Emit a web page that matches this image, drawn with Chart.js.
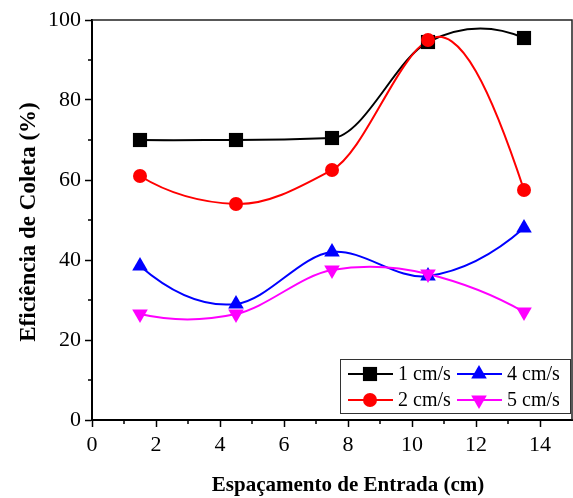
<!DOCTYPE html>
<html>
<head>
<meta charset="utf-8">
<script src="https://cdn.jsdelivr.net/npm/chart.js@4"></script>
<style>
  body { margin: 0; background: #fff; }
  #wrap { width: 573px; height: 498px; }
</style>
</head>
<body>
<div id="wrap"><canvas id="chart"></canvas></div>
<script>
// data
const espacamento = [1.5, 4.5, 7.5, 10.5, 13.5];
const v1 = [70, 70, 70.5, 94.5, 95.5];
const v2 = [61, 54, 62.5, 95, 57.5];
const v4 = [38.5, 29, 42, 36, 48];
const v5 = [26.5, 26.5, 37.5, 36.5, 27];
const seriesLabels = ['1 cm/s', '2 cm/s', '4 cm/s', '5 cm/s'];
const xTicks = [0, 2, 4, 6, 8, 10, 12, 14];
const yTicks = [0, 20, 40, 60, 80, 100];

const FONT = "'Liberation Serif', 'Times New Roman', serif";
const colors = ['#000000', '#ff0000', '#0000ff', '#ff00ff'];
const styles = ['rect', 'circle', 'triangle', 'triangle'];
const radii = [10, 7, 9, 9];
const rots = [0, 0, 0, 180];
const allValues = [v1, v2, v4, v5];

const datasets = allValues.map((vals, i) => ({
  label: seriesLabels[i],
  data: espacamento.map((x, j) => ({ x: x, y: vals[j] })),
  showLine: false,
  pointStyle: styles[i],
  pointRadius: radii[i],
  pointHoverRadius: radii[i],
  pointRotation: rots[i],
  pointBackgroundColor: colors[i],
  pointBorderColor: colors[i],
  pointBorderWidth: 0,
  borderColor: colors[i],
  order: 3 - i
}));

// Akima spline slopes at each knot (what the original plot's "spline" looks like)
function akimaSlopes(xs, ys) {
  const n = xs.length;
  const m = [];
  for (let i = 0; i < n - 1; i++) m.push((ys[i + 1] - ys[i]) / (xs[i + 1] - xs[i]));
  // extend two on each side
  const mm1 = 2 * m[0] - m[1];
  const mm2 = 2 * mm1 - m[0];
  const mp1 = 2 * m[n - 2] - m[n - 3];
  const mp2 = 2 * mp1 - m[n - 2];
  const e = [mm2, mm1].concat(m, [mp1, mp2]);
  const t = [];
  for (let i = 0; i < n; i++) {
    const a = e[i], b = e[i + 1], c = e[i + 2], d = e[i + 3];
    const w1 = Math.abs(d - c), w2 = Math.abs(b - a);
    t.push(w1 + w2 === 0 ? (b + c) / 2 : (w1 * b + w2 * c) / (w1 + w2));
  }
  return t;
}

const splinePlugin = {
  id: 'splineLines',
  beforeDatasetsDraw(chart) {
    const ctx = chart.ctx, xs = chart.scales.x, ys = chart.scales.y;
    const area = chart.chartArea;
    ctx.save();
    ctx.beginPath();
    ctx.rect(area.left, area.top, area.right - area.left, area.bottom - area.top);
    ctx.clip();
    ctx.lineWidth = 2;
    ctx.lineJoin = 'round';
    allValues.forEach((vals, k) => {
      const t = akimaSlopes(espacamento, vals);
      ctx.strokeStyle = colors[k];
      ctx.beginPath();
      ctx.moveTo(xs.getPixelForValue(espacamento[0]), ys.getPixelForValue(vals[0]));
      for (let i = 0; i < espacamento.length - 1; i++) {
        const x0 = espacamento[i], x1 = espacamento[i + 1], h = x1 - x0;
        ctx.bezierCurveTo(
          xs.getPixelForValue(x0 + h / 3), ys.getPixelForValue(vals[i] + t[i] * h / 3),
          xs.getPixelForValue(x1 - h / 3), ys.getPixelForValue(vals[i + 1] - t[i + 1] * h / 3),
          xs.getPixelForValue(x1), ys.getPixelForValue(vals[i + 1])
        );
      }
      ctx.stroke();
    });
    ctx.restore();
  },
  afterDraw(chart) {
    const ctx = chart.ctx, xs = chart.scales.x, ys = chart.scales.y;
    const area = chart.chartArea;
    ctx.save();
    // frame top/right
    ctx.strokeStyle = '#222';
    ctx.lineWidth = 1.5;
    ctx.beginPath();
    ctx.moveTo(area.left, area.top);
    ctx.lineTo(area.right, area.top);
    ctx.lineTo(area.right, area.bottom);
    ctx.stroke();
    // minor ticks
    ctx.strokeStyle = '#000';
    ctx.lineWidth = 1.5;
    ctx.beginPath();
    for (let v = 1; v < 15; v += 2) {
      const px = xs.getPixelForValue(v);
      ctx.moveTo(px, area.bottom);
      ctx.lineTo(px, area.bottom + 4);
    }
    for (let v = 10; v < 100; v += 20) {
      const py = ys.getPixelForValue(v);
      ctx.moveTo(area.left, py);
      ctx.lineTo(area.left - 4, py);
    }
    ctx.stroke();

    // axis titles
    ctx.fillStyle = '#000';
    ctx.textAlign = 'center';
    ctx.textBaseline = 'alphabetic';
    ctx.font = "bold 21px " + FONT;
    ctx.fillText('Espaçamento de Entrada (cm)', 348, 491);
    ctx.save();
    ctx.font = "bold 23px " + FONT;
    ctx.translate(35, 222);
    ctx.rotate(-Math.PI / 2);
    ctx.fillText('Eficiência de Coleta (%)', 0, 0);
    ctx.restore();

    // legend box
    const bx = area.right - 232, by = area.bottom - 61, bw = 230, bh = 54;
    ctx.fillStyle = '#fff';
    ctx.fillRect(bx, by, bw, bh);
    ctx.strokeStyle = '#333';
    ctx.lineWidth = 1;
    ctx.strokeRect(bx + 0.5, by + 0.5, bw, bh);
    const slots = [[0, 0], [0, 1], [1, 0], [1, 1]]; // [col,row]
    ctx.font = "20px " + FONT;
    ctx.textAlign = 'left';
    ctx.textBaseline = 'middle';
    slots.forEach((s, i) => {
      const lx = bx + 8 + s[0] * 109;
      const ly = by + 15 + s[1] * 26;
      ctx.strokeStyle = colors[i];
      ctx.lineWidth = 2;
      ctx.beginPath();
      ctx.moveTo(lx, ly);
      ctx.lineTo(lx + 45, ly);
      ctx.stroke();
      ctx.fillStyle = colors[i];
      Chart.helpers.drawPoint(ctx, {
        pointStyle: styles[i], radius: radii[i], rotation: rots[i], borderWidth: 0
      }, lx + 22, ly);
      ctx.fillStyle = '#000';
      ctx.fillText(seriesLabels[i], lx + 50, ly + 1);
    });
    ctx.restore();
  }
};

new Chart(document.getElementById('chart'), {
  type: 'scatter',
  data: { datasets: datasets },
  options: {
    responsive: true,
    maintainAspectRatio: false,
    animation: false,
    events: [],
    layout: { autoPadding: false, padding: { top: 20, right: 1, left: 0, bottom: 0 } },
    plugins: { legend: { display: false }, tooltip: { enabled: false } },
    scales: {
      x: {
        type: 'linear', min: 0, max: 15,
        afterFit(scale) { scale.height = 78; },
        afterBuildTicks(scale) { scale.ticks = xTicks.map(v => ({ value: v })); },
        border: { display: true, color: '#000', width: 2 },
        grid: { drawOnChartArea: false, drawTicks: true, tickLength: 7, tickColor: '#000', tickWidth: 1.5 },
        ticks: { color: '#000', padding: 5, font: { family: FONT, size: 22 }, maxRotation: 0, autoSkip: false }
      },
      y: {
        type: 'linear', min: 0, max: 100,
        afterFit(scale) { scale.width = 92; },
        afterBuildTicks(scale) { scale.ticks = yTicks.map(v => ({ value: v })); },
        border: { display: true, color: '#000', width: 2 },
        grid: { drawOnChartArea: false, drawTicks: true, tickLength: 7, tickColor: '#000', tickWidth: 1.5 },
        ticks: { color: '#000', padding: 4, font: { family: FONT, size: 22 }, autoSkip: false }
      }
    }
  },
  plugins: [splinePlugin]
});
</script>
</body>
</html>
